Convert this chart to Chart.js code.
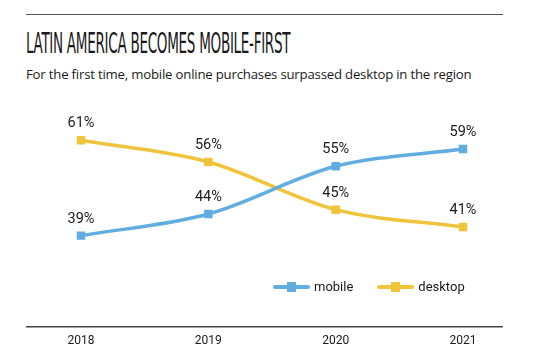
<!DOCTYPE html>
<html>
<head>
<meta charset="utf-8">
<script src="https://cdn.jsdelivr.net/npm/chart.js@4"></script>
<style>
    body { margin: 0; background: #fff; width: 533px; height: 359px; overflow: hidden; position: relative; }
    #regla { position: absolute; left: 26px; top: 14px; width: 477px; height: 0; border-top: 1.5px solid #555; }
    #titulo { position: absolute; left: 26px; top: 28.5px; margin: 0; font-family: "DejaVu Sans Condensed", sans-serif; font-weight: normal; font-size: 29px; line-height: 1; color: #1a1a1a; letter-spacing: -0.6px; transform: scaleX(0.52); transform-origin: left; white-space: nowrap; }
    #descripcion { position: absolute; left: 26px; top: 65px; margin: 0; font-family: "Open Sans", sans-serif; font-size: 13.2px; color: #1a1a1a; letter-spacing: -0.2px; white-space: nowrap; }
    #contenedor { position: absolute; left: 0; top: 95px; width: 533px; height: 264px; }
    #leyenda { position: absolute; top: 279px; left: 273px; font-family: Roboto, sans-serif; font-size: 13px; color: #1a1a1a; display: flex; align-items: center; }
    .item { display: flex; align-items: center; margin-right: 24px; }
    .muestra { position: relative; width: 37px; height: 4px; border-radius: 2px; margin-right: 4px; }
    .muestra span { position: absolute; left: 14px; top: -3px; width: 9px; height: 10px; }
</style>
</head>
<body>
<div id="regla"></div>
<h1 id="titulo">LATIN AMERICA BECOMES MOBILE-FIRST</h1>
<p id="descripcion">For the first time, mobile online purchases surpassed desktop in the region</p>
<div id="contenedor"><canvas id="grafico"></canvas></div>
<div id="leyenda"></div>
<script>
const ANIOS = [2018, 2019, 2020, 2021];
const MOBILE = [39, 44, 55, 59];
const DESKTOP = [61, 56, 45, 41];
const ETIQUETAS_SERIES = ["mobile", "desktop"];
const COLOR_MOBILE = "#62ade0";
const COLOR_DESKTOP = "#f0c43a";

function crearPuntos(valores) {
    return ANIOS.map((anio, i) => ({ x: anio, y: valores[i] }));
}

function mostrarLeyenda() {
    const contenedor = document.getElementById("leyenda");
    [COLOR_MOBILE, COLOR_DESKTOP].forEach((color, i) => {
        const item = document.createElement("div");
        item.classList.add("item");
        item.innerHTML = `
            <div class="muestra" style="background:${color}"><span style="background:${color}"></span></div>
            <span>${ETIQUETAS_SERIES[i]}</span>
        `;
        contenedor.appendChild(item);
    });
}

// etiquetas de valor encima de cada punto
const etiquetasValor = {
    id: "etiquetasValor",
    afterDatasetsDraw(chart) {
        const ctx = chart.ctx;
        ctx.save();
        ctx.font = "14.5px Roboto, sans-serif";
        ctx.fillStyle = "#1a1a1a";
        ctx.textAlign = "center";
        ctx.textBaseline = "alphabetic";
        chart.data.datasets.forEach((ds, d) => {
            chart.getDatasetMeta(d).data.forEach((punto, i) => {
                ctx.fillText(ds.data[i].y + "%", punto.x, punto.y - 13);
            });
        });
        ctx.restore();
    }
};

function crearGrafico() {
    new Chart(document.getElementById("grafico"), {
        type: "line",
        data: {
            datasets: [
                {
                    label: ETIQUETAS_SERIES[0],
                    data: crearPuntos(MOBILE),
                    borderColor: COLOR_MOBILE,
                    backgroundColor: COLOR_MOBILE,
                    borderWidth: 3.5,
                    tension: 0.4,
                    cubicInterpolationMode: "monotone",
                    pointStyle: "rect",
                    pointRadius: 6,
                    pointBorderWidth: 0
                },
                {
                    label: ETIQUETAS_SERIES[1],
                    data: crearPuntos(DESKTOP),
                    borderColor: COLOR_DESKTOP,
                    backgroundColor: COLOR_DESKTOP,
                    borderWidth: 3.5,
                    tension: 0.4,
                    cubicInterpolationMode: "monotone",
                    pointStyle: "rect",
                    pointRadius: 6,
                    pointBorderWidth: 0
                }
            ]
        },
        options: {
            responsive: true,
            maintainAspectRatio: false,
            animation: false,
            layout: { padding: { left: 27, right: 31, top: 15, bottom: 4 } },
            plugins: {
                legend: { display: false },
                tooltip: { enabled: false }
            },
            scales: {
                x: {
                    type: "linear",
                    min: 2017.576,
                    max: 2021.306,
                    afterBuildTicks: scale => { scale.ticks = ANIOS.map(a => ({ value: a })); },
                    grid: { display: false, drawTicks: false },
                    border: { display: true, color: "#444", width: 1.5 },
                    ticks: {
                        padding: 7,
                        color: "#1a1a1a",
                        font: { family: "Roboto", size: 12 },
                        callback: v => String(v)
                    }
                },
                y: {
                    min: 18,
                    max: 68,
                    display: false
                }
            }
        },
        plugins: [etiquetasValor]
    });
}

mostrarLeyenda();
crearGrafico();
</script>
</body>
</html>
